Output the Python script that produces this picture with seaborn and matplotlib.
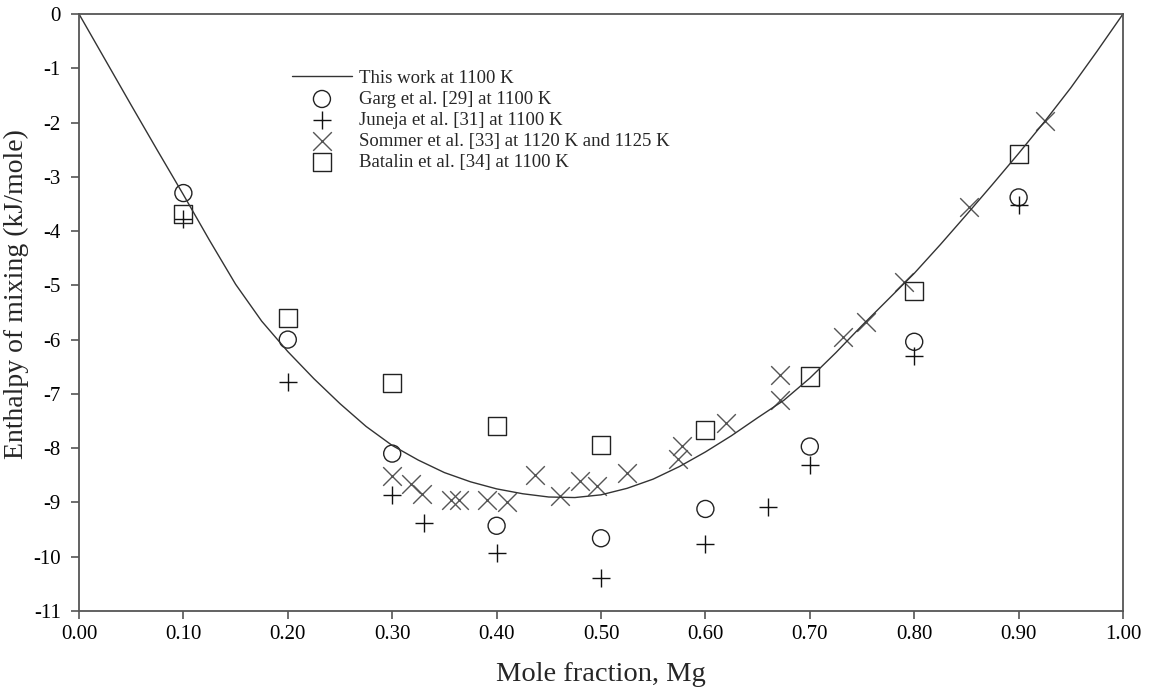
import numpy as np
import pandas as pd
import seaborn as sns
import matplotlib.pyplot as plt

# calculated curve (this work, 1100 K)
curve_x = [0, 0.025, 0.05, 0.075, 0.1, 0.125, 0.15, 0.175, 0.2, 0.225, 0.25, 0.275,
           0.3, 0.325, 0.35, 0.375, 0.4, 0.425, 0.45, 0.475, 0.5, 0.525, 0.55, 0.575,
           0.6, 0.625, 0.65, 0.675, 0.7, 0.725, 0.75, 0.775, 0.8, 0.825, 0.85, 0.875,
           0.9, 0.925, 0.95, 0.975, 1.0]
curve_y = [0, -0.84, -1.68, -2.51, -3.33, -4.17, -4.98, -5.66, -6.22, -6.72, -7.18, -7.60,
           -7.95, -8.22, -8.45, -8.62, -8.75, -8.84, -8.90, -8.91, -8.86, -8.74, -8.57, -8.34,
           -8.07, -7.77, -7.44, -7.12, -6.71, -6.24, -5.74, -5.26, -4.78, -4.25, -3.70, -3.14,
           -2.57, -1.98, -1.36, -0.69, 0]

# Garg et al. [29]
garg_x = [0.1, 0.2, 0.3, 0.4, 0.5, 0.6, 0.7, 0.8, 0.9]
garg_y = [-3.30, -6.00, -8.10, -9.43, -9.66, -9.12, -7.97, -6.04, -3.38]

# Juneja et al. [31]
juneja_x = [0.1, 0.2, 0.3, 0.33, 0.4, 0.5, 0.6, 0.66, 0.7, 0.8, 0.9]
juneja_y = [-3.78, -6.79, -8.87, -9.37, -9.94, -10.39, -9.76, -9.09, -8.31, -6.31, -3.52]

# Sommer et al. [33]
sommer_x = [0.3, 0.318, 0.329, 0.356, 0.364, 0.391, 0.41, 0.437, 0.461, 0.48, 0.496,
            0.525, 0.574, 0.578, 0.62, 0.671, 0.671, 0.732, 0.754, 0.79, 0.852, 0.925]
sommer_y = [-8.52, -8.66, -8.84, -8.96, -8.96, -8.96, -9.00, -8.49, -8.89, -8.60, -8.70,
            -8.45, -8.20, -7.96, -7.54, -7.12, -6.65, -5.95, -5.67, -4.93, -3.55, -1.98]

# Batalin et al. [34]
batalin_x = [0.1, 0.2, 0.3, 0.4, 0.5, 0.6, 0.7, 0.8, 0.9]
batalin_y = [-3.68, -5.60, -6.80, -7.59, -7.94, -7.67, -6.68, -5.10, -2.58]

x_ticks = [0.0, 0.1, 0.2, 0.3, 0.4, 0.5, 0.6, 0.7, 0.8, 0.9, 1.0]
y_ticks = list(range(-11, 1))

sns.set_style("ticks")
plt.rcParams['font.family'] = ['Liberation Serif', 'DejaVu Serif']

fig = plt.figure(figsize=(11.53, 6.91), dpi=100)
ax = fig.add_axes([0.0685, 0.1158, 0.9055, 0.864])

sns.lineplot(x=curve_x, y=curve_y, ax=ax, color='#333333', linewidth=1.0,
             sort=False, label='This work at 1100 K')
sns.scatterplot(x=garg_x, y=garg_y, ax=ax, marker='o', s=150, facecolor='none',
                edgecolor='#222222', linewidth=1.0, label='Garg et al. [29] at 1100 K')
sns.scatterplot(x=juneja_x, y=juneja_y, ax=ax, marker='+', s=160, color='#111111',
                linewidth=1.0, label='Juneja et al. [31] at 1100 K')
sns.scatterplot(x=sommer_x, y=sommer_y, ax=ax, marker='x', s=180, color='#555555',
                linewidth=1.0, label='Sommer et al. [33] at 1120 K and 1125 K')
sns.scatterplot(x=batalin_x, y=batalin_y, ax=ax, marker='s', s=170, facecolor='none',
                edgecolor='#222222', linewidth=1.0, label='Batalin et al. [34] at 1100 K')

ax.set_xlim(0, 1)
ax.set_ylim(-11, 0)
ax.set_xticks(x_ticks)
ax.set_xticklabels([f'{v:.2f}' for v in x_ticks])
ax.set_yticks(y_ticks)
ax.set_yticklabels([str(v) for v in y_ticks])

for sp in ax.spines.values():
    sp.set_visible(True)
    sp.set_color('#555555')
    sp.set_linewidth(1.3)
ax.tick_params(axis='both', direction='out', length=6, width=1.2, color='#555555',
               labelsize=15, labelcolor='black')
ax.tick_params(axis='x', pad=4)
ax.tick_params(axis='y', pad=7)

ax.set_xlabel('Mole fraction, Mg', fontsize=20.5)
ax.set_ylabel('Enthalpy of mixing (kJ/mole)', fontsize=20)
ax.xaxis.set_label_coords(0.5, -0.085)
ax.yaxis.set_label_coords(-0.048, 0.53)

leg = ax.legend(loc='upper left', bbox_to_anchor=(0.195, 0.922), frameon=False,
                fontsize=13.5, handlelength=3.2, handletextpad=0.4,
                labelspacing=0.2, borderpad=0)

fig.savefig('out.png', dpi=100)
